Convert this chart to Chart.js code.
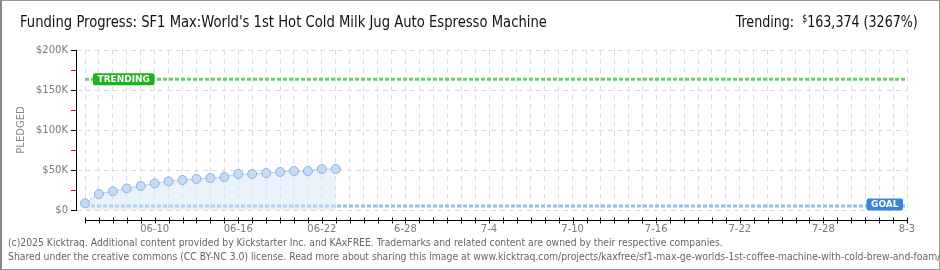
<!DOCTYPE html>
<html>
<head>
<meta charset="utf-8">
<script src="https://cdn.jsdelivr.net/npm/chart.js@4"></script>
<style>
  html, body { margin: 0; padding: 0; background: #fff; }
  #wrap { position: relative; width: 940px; height: 270px; overflow: hidden; }
  #frame { position: absolute; left: 0; top: 0; width: 940px; height: 270px; box-sizing: border-box;
           border: 1px solid #999; border-left: 2px solid #888; pointer-events: none; }
  canvas { position: absolute; left: 0; top: 0; }
  .head { position: absolute; top: 12px; font-family: 'Liberation Sans Narrow', 'DejaVu Sans Condensed', sans-serif;
          font-size: 16px; color: #111; white-space: nowrap; }
  #title { left: 20px; transform: scaleX(0.915); transform-origin: left center; }
  #trend { right: 22px; transform: scaleX(0.88); transform-origin: right center; }
  #trend sup { font-size: 10px; vertical-align: 5px; }
  .foot { position: absolute; left: 8px; font-family: 'DejaVu Sans Condensed', sans-serif; font-size: 10.3px;
          color: #666; white-space: nowrap; }
</style>
</head>
<body>
<div id="wrap">
  <canvas id="fundingChart" width="940" height="270"></canvas>
  <div class="head" id="title">Funding Progress: SF1 Max:World's 1st Hot Cold Milk Jug Auto Espresso Machine</div>
  <div class="head" id="trend">Trending:&nbsp; <sup>$</sup>163,374 (3267%)</div>
  <div class="foot" style="top:236px">(c)2025 Kicktraq. Additional content provided by Kickstarter Inc. and KAxFREE. Trademarks and related content are owned by their respective companies.</div>
  <div class="foot" style="top:250px">Shared under the creative commons (CC BY-NC 3.0) license. Read more about sharing this image at www.kicktraq.com/projects/kaxfree/sf1-max-ge-worlds-1st-coffee-machine-with-cold-brew-and-foam/</div>
  <div id="frame"></div>
</div>
<script>
// 데이터
const pledgeDates = ['06-05', '06-06', '06-07', '06-08', '06-09', '06-10', '06-11', '06-12', '06-13', '06-14',
                     '06-15', '06-16', '06-17', '06-18', '06-19', '06-20', '06-21', '06-22', '06-23'];
const pledgeValues = [8300, 20000, 23300, 27000, 30000, 33300, 35800, 37500, 38800, 40000,
                      41200, 45000, 45000, 46200, 47500, 48700, 48700, 51200, 51200];
const tickLabels = ['06-10', '06-16', '06-22', '6-28', '7-4', '7-10', '7-16', '7-22', '7-28', '8-3'];
const startDate = '06-05';
const endDate = '08-03';
const TRENDING = 163374;
const GOAL = 5000;

const COLORS = {
    grid: '#dcdcdc',
    label: '#7a7a7a',
    trend: '#6bcf6b',
    trendBox: '#1cb41c',
    goal: '#93bbe8',
    goalBox: '#3a86d6',
    point: '#c3dbf6',
    pointBorder: '#8db1dc',
    line: '#b3d1f2',
    fill: 'rgba(214, 232, 250, 0.5)'
};

// 날짜 -> 시작일 기준 일수
function dayOf(md) {
    const [m, d] = md.split('-').map(Number);
    const [sm, sd] = startDate.split('-').map(Number);
    return Math.round((Date.UTC(2025, m - 1, d) - Date.UTC(2025, sm - 1, sd)) / 864e5);
}

const lastDay = dayOf(endDate);
const tickDays = tickLabels.map(dayOf);
const allDays = [];
for (let i = 0; i <= lastDay; i++) allDays.push(i);

// x축 선과 눈금, 라벨 박스
const decorPlugin = {
    id: 'decor',
    afterDatasetsDraw(chart) {
        const { ctx, scales: { x, y }, chartArea } = chart;
        ctx.save();
        // x축
        const ay = chartArea.bottom + 10.5;
        ctx.strokeStyle = '#000';
        ctx.lineWidth = 1;
        ctx.beginPath();
        ctx.moveTo(x.getPixelForValue(0), ay);
        ctx.lineTo(x.getPixelForValue(lastDay), ay);
        allDays.forEach(d => {
            const px = Math.round(x.getPixelForValue(d)) + 0.5;
            ctx.moveTo(px, ay - 3);
            ctx.lineTo(px, ay + 3);
        });
        ctx.stroke();

        // 라벨 박스
        function tag(text, color, left, right, cy) {
            ctx.font = 'bold 9px "DejaVu Sans"';
            const w = ctx.measureText(text).width + 9;
            const h = 12;
            const bx = left !== null ? left : right - w;
            ctx.fillStyle = color;
            ctx.beginPath();
            ctx.roundRect(bx, cy - h / 2, w, h, 2);
            ctx.fill();
            ctx.fillStyle = '#fff';
            ctx.textBaseline = 'middle';
            ctx.textAlign = 'left';
            ctx.fillText(text, bx + 4.5, cy + 0.5);
        }
        tag('TRENDING', COLORS.trendBox, x.getPixelForValue(0) + 8, null, y.getPixelForValue(TRENDING));
        tag('GOAL', COLORS.goalBox, null, x.getPixelForValue(lastDay) - 4, y.getPixelForValue(GOAL) - 1.5);
        ctx.restore();
    }
};

new Chart(document.getElementById('fundingChart'), {
    type: 'line',
    data: {
        datasets: [
            {
                label: 'Pledged',
                data: pledgeDates.map((d, i) => ({ x: dayOf(d), y: pledgeValues[i] })),
                borderColor: COLORS.line,
                borderWidth: 1,
                backgroundColor: COLORS.fill,
                fill: 'origin',
                pointRadius: 4.5,
                pointBackgroundColor: COLORS.point,
                pointBorderColor: COLORS.pointBorder,
                pointBorderWidth: 1,
                tension: 0,
                order: 0
            },
            {
                label: 'Trending',
                data: [{ x: 0, y: TRENDING }, { x: lastDay, y: TRENDING }],
                borderColor: COLORS.trend,
                borderWidth: 3,
                borderDash: [4, 2],
                pointRadius: 0,
                fill: false,
                order: 1
            },
            {
                label: 'Goal',
                data: [{ x: 0, y: GOAL }, { x: lastDay, y: GOAL }],
                borderColor: COLORS.goal,
                borderWidth: 3,
                borderDash: [4, 2],
                pointRadius: 0,
                fill: false,
                order: 1
            }
        ]
    },
    options: {
        responsive: false,
        animation: false,
        events: [],
        layout: { padding: { left: 10, right: 33, top: 50, bottom: 0 } },
        plugins: { legend: { display: false }, tooltip: { enabled: false } },
        scales: {
            x: {
                type: 'linear',
                min: -0.646,
                max: lastDay,
                afterFit: s => { s.height = 60; },
                afterBuildTicks: s => { s.ticks = allDays.map(v => ({ value: v })); },
                grid: { color: COLORS.grid, drawTicks: false },
                border: { display: false, dash: [5, 4] },
                ticks: {
                    autoSkip: false,
                    maxRotation: 0,
                    padding: 13,
                    color: COLORS.label,
                    font: { family: 'DejaVu Sans', size: 10 },
                    callback: v => {
                        const i = tickDays.indexOf(v);
                        return i >= 0 ? tickLabels[i] : '';
                    }
                }
            },
            y: {
                min: 0,
                max: 200000,
                afterFit: s => { s.width = 66; },
                afterBuildTicks: s => {
                    const t = [];
                    for (let v = 0; v <= 200000; v += 25000) t.push({ value: v });
                    s.ticks = t;
                },
                grid: {
                    color: c => (c.tick && c.tick.value % 50000 === 0 ? COLORS.grid : 'rgba(0,0,0,0)'),
                    tickColor: c => (c.tick && c.tick.value % 50000 === 0 ? '#000' : '#e00000'),
                    tickLength: 5
                },
                border: { display: true, color: '#000', width: 1, dash: [5, 4] },
                title: {
                    display: true,
                    text: 'PLEDGED',
                    color: '#888',
                    font: { family: 'DejaVu Sans', size: 10 },
                    padding: { top: 5, bottom: 0 }
                },
                ticks: {
                    padding: 3,
                    color: COLORS.label,
                    font: { family: 'DejaVu Sans', size: 10 },
                    callback: v => (v % 50000 === 0 ? (v === 0 ? '$0' : '$' + v / 1000 + 'K') : '')
                }
            }
        }
    },
    plugins: [decorPlugin]
});
</script>
</body>
</html>
